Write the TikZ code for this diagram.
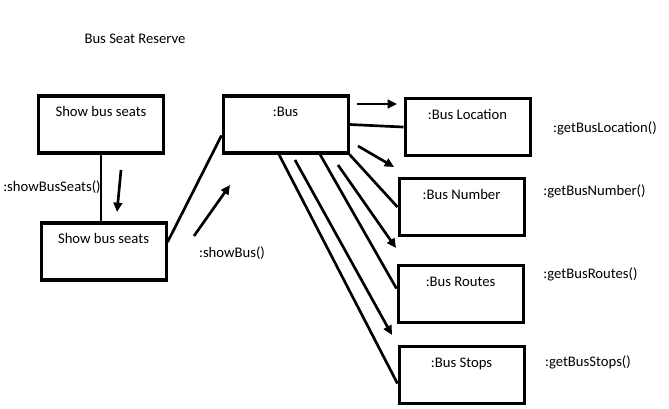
\documentclass[tikz,border=0pt]{standalone}
\usepackage{fontspec}
\setmainfont{Carlito}
\usetikzlibrary{arrows.meta, positioning}

\begin{document}
\begin{tikzpicture}[x=0.75pt, y=-0.75pt, >={Triangle[length=7pt,width=6.5pt]}, on grid, font=\fontsize{11}{13}\selectfont]
  \tikzstyle{obj}=[draw=black, line width=2.3pt, minimum width=93.75pt, inner ysep=6pt, text height=9.75pt, text depth=21pt]
  \tikzstyle{link}=[line width=2pt]
  \tikzstyle{msg}=[->, line width=2pt]
  \useasboundingbox (0,0) rectangle (669,409);
  \node (title) at (135,39) {Bus Seat Reserve};
  % objects
  \node[obj] (show1) at (101,124.5) {Show bus seats};
  \node[obj] (show2) [below right=95.25pt and 1.9pt of show1] {Show bus seats};
  \node[obj] (bus) [right=138.4pt of show1] {:Bus};
  \node[obj] (loc) [below right=1.9pt and 136.5pt of bus] {:Bus Location};
  \node[obj] (num) [below left=60pt and 4.5pt of loc] {:Bus Number};
  \node[obj] (routes) [below left=64.9pt and 0.75pt of num] {:Bus Routes};
  \node[obj] (stops) [below right=60.75pt and 0.75pt of routes] {:Bus Stops};
  % links
  \draw[link] (show1.south) -- (show1.south |- show2.north);
  \draw[link] ([yshift=7.1pt]show2.east) -- ([yshift=-8.25pt]bus.west);
  \draw[link] (bus.east) -- (loc.west);
  \draw[link] (bus.south east) -- (num.west);
  \draw[link] ([xshift=25.9pt]bus.south) -- ([yshift=3.75pt]routes.west);
  \draw[link] ([xshift=-4.9pt]bus.south) -- ([yshift=-6.75pt]stops.west);
  % messages
  \coordinate (seatsA) at (121,170); \coordinate (seatsB) at (117,212);
  \coordinate (showA) at (194,236); \coordinate (showB) at (230,185);
  \coordinate (locA) at (357,104); \coordinate (locB) at (397,104);
  \coordinate (numA) at (358,146); \coordinate (numB) at (394,167);
  \coordinate (routesA) at (338,165); \coordinate (routesB) at (396,248);
  \coordinate (stopsA) at (295,160); \coordinate (stopsB) at (392,335);
  \draw[msg] (seatsA) -- (seatsB);
  \draw[msg] (showA) -- (showB);
  \draw[msg] (locA) -- (locB);
  \draw[msg] (numA) -- (numB);
  \draw[msg] (routesA) -- (routesB);
  \draw[msg] (stopsA) -- (stopsB);
  \node (seatsL) at (52,187) {:showBusSeats()};
  \node (showL) at (232,253) {:showBus()};
  \node (locL) at (605,128) {:getBusLocation()};
  \node (numL) at (594.5,191) {:getBusNumber()};
  \node (routesL) at (590.5,274) {:getBusRoutes()};
  \node (stopsL) at (588,362) {:getBusStops()};
\end{tikzpicture}
\end{document}
